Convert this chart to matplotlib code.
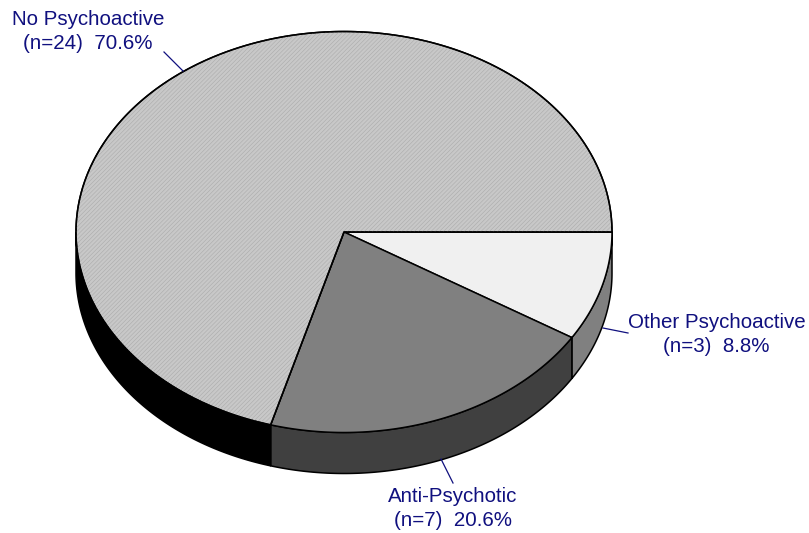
import numpy as np
import matplotlib
matplotlib.use("Agg")
import matplotlib.pyplot as plt
from matplotlib.patches import Polygon

categories = ["Other Psychoactive", "Anti-Psychotic", "No Psychoactive"]
counts = [3, 7, 24]
percents = ["8.8%", "20.6%", "70.6%"]
top_colors = ["#f0f0f0", "#808080", "#c8c8c8"]
side_colors = ["#808080", "#404040", "#000000"]

W, H = 809, 533
CX, CY, RX, RY, DEPTH = 344, 232, 268, 200.5, 41
TEXT = "#10107f"

plt.rcParams["font.family"] = ["Liberation Sans", "DejaVu Sans"]
plt.rcParams["hatch.linewidth"] = 0.35
fig = plt.figure(figsize=(W / 100, H / 100), dpi=100)
ax = fig.add_axes([0, 0, 1, 1])
ax.set_xlim(0, W)
ax.set_ylim(H, 0)
ax.axis("off")


def rim(a0, a1, dy=0.0):
    t = np.radians(np.linspace(a0, a1, 300))
    return np.column_stack([CX + RX * np.cos(t), CY + dy + RY * np.sin(t)])


edges = 360 * np.cumsum([0] + counts) / sum(counts)

for i in range(3):
    a0, a1 = edges[i], edges[i + 1]
    # side wall is only visible on the front half of the ellipse
    s0, s1 = max(a0, 0), min(a1, 180)
    if s1 > s0:
        pts = np.vstack([rim(s0, s1), rim(s0, s1, DEPTH)[::-1]])
        ax.add_patch(Polygon(pts, closed=True, fc=side_colors[i], ec="black", lw=1.1, zorder=2))

for i in range(3):
    a0, a1 = edges[i], edges[i + 1]
    pts = np.vstack([[CX, CY], rim(a0, a1)])
    ax.add_patch(Polygon(pts, closed=True, fc=top_colors[i], ec="black", lw=1.1, zorder=3))
    if i == 2:
        ax.add_patch(Polygon(pts, closed=True, fc="none", ec="#a8a8a8", lw=0,
                             hatch="////////", zorder=3.1))
        ax.add_patch(Polygon(pts, closed=True, fc="none", ec="black", lw=1.1, zorder=3.2))

leaders = [((603, 328), (628, 333)), ((441, 459), (453, 483)), ((183, 71), (164, 52))]
label_pos = [(716.5, 334.5), (453, 508.5), (88, 31.5)]
for i in range(3):
    (x0, y0), (x1, y1) = leaders[i]
    ax.plot([x0, x1], [y0, y1], color=TEXT, lw=0.9, zorder=4)
    ax.text(*label_pos[i], f"{categories[i]}\n(n={counts[i]})  {percents[i]}", color=TEXT,
            fontsize=14.8, ha="center", va="center", linespacing=1.36, zorder=5)

fig.savefig("out.png", dpi=100, facecolor="white")
